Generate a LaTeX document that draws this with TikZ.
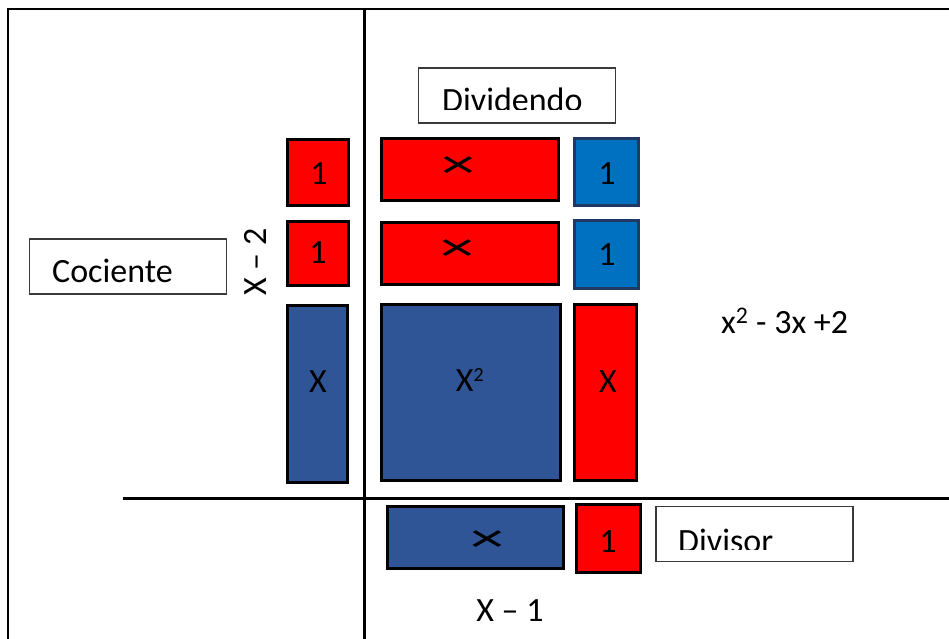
\documentclass[tikz,border=0pt]{standalone}
\usepackage{fontspec}
\setmainfont{Carlito}
\newfontfamily\crossfont{Liberation Sans}
\definecolor{tred}{HTML}{FF0000}
\definecolor{tbluex}{HTML}{2F5597}
\definecolor{tblueone}{HTML}{0070C0}
\definecolor{tnavy}{HTML}{1F3864}
\definecolor{tgray}{HTML}{3A3A3A}
\newcommand{\tilecross}{\scalebox{1.9}[1.1]{\crossfont ×}}
\begin{document}
\begin{tikzpicture}[x=1pt,y=-1pt,
  tile/.style={draw=black,line width=3.5pt,inner sep=0pt,outer sep=0pt},
  redtile/.style={tile,fill=tred},
  bluextile/.style={tile,fill=tbluex},
  bluetile/.style={tile,fill=tblueone,draw=tnavy},
  lblbox/.style={draw=tgray,line width=1.5pt,fill=white,inner sep=0pt,minimum width=197pt,minimum height=55pt},
  txt/.style={inner sep=0pt,font=\fontsize{34}{40}\selectfont},
  axis/.style={line width=3pt,black},
  frameline/.style={line width=2.2pt,black}
]
\useasboundingbox (0,0) rectangle (949,638);
\clip (0,0) rectangle (949,638);
\fill[white] (0,0) rectangle (949,638);

% frame and axes
\coordinate (ftr) at (960,9);
\coordinate (ftl) at (8,9);
\coordinate (fbl) at (8,650);
\draw[frameline] (ftr) -- (ftl) -- (fbl);
\coordinate (vtop) at (364,9);
\coordinate (vbot) at (364,650);
\draw[axis] (vtop) -- (vbot);
\coordinate (hl) at (123,498);
\coordinate (hr) at (960,498);
\draw[axis] (hl) -- (hr);

% left column (quotient)
\node[redtile,minimum width=61pt,minimum height=66pt] (q1a) at (318,172.5) {};
\node[redtile,minimum width=61pt,minimum height=64pt] (q1b) at (318,253.5) {};
\node[bluextile,minimum width=60pt,minimum height=177pt] (qx) at (317.5,394) {};
\node[txt] (q1at) at (319,174) {1};
\node[txt] (q1bt) at (318,253) {1};
\node[txt] (qxt) at (318,382) {X};

% dividend
\node[redtile,minimum width=177pt,minimum height=62pt] (dxa) at (470,169.5) {};
\node[redtile,minimum width=177pt,minimum height=62pt] (dxb) at (470,253.5) {};
\node[bluetile,minimum width=64pt,minimum height=67pt] (d1a) at (606.5,172) {};
\node[bluetile,minimum width=64pt,minimum height=68pt] (d1b) at (606.5,254.5) {};
\node[bluextile,minimum width=179pt,minimum height=176pt] (dxx) at (471,392.5) {};
\node[redtile,minimum width=62pt,minimum height=176pt] (dx) at (605.5,392.5) {};
\node[txt] (dxat) at (458,167) {\tilecross};
\node[txt] (dxbt) at (457,250) {\tilecross};
\node[txt] (d1at) at (607,174) {1};
\node[txt] (d1bt) at (607,255) {1};
\node[txt] (dxxt) at (470,380) {X\textsuperscript{\fontsize{20}{20}\selectfont 2}};
\node[txt] (dxt) at (608,382) {X};

% divisor
\node[bluextile,minimum width=176pt,minimum height=62pt] (vx) at (475.5,537.5) {};
\node[redtile,minimum width=64pt,minimum height=68pt] (v1) at (608.5,538.5) {};
\node[txt] (vxt) at (487,541) {\tilecross};
\node[txt] (v1t) at (608,542) {1};

% label boxes
\node[lblbox] (divbox) at (517,95.5) {};
\begin{scope}
  \clip (418,68) rectangle (616,109);
  \node[txt,anchor=base west] (divtxt) at (442,111.5) {Dividendo};
\end{scope}
\node[lblbox] (cocbox) at (128,266.5) {};
\node[txt,anchor=base west] (coctxt) at (52,282) {Cociente};
\node[lblbox] (dvsbox) at (754.5,534) {};
\begin{scope}
  \clip (656,506) rectangle (853,549);
  \node[txt,anchor=base west] (dvstxt) at (678,552) {Divisor};
\end{scope}

% expressions
\node[txt,rotate=90] (qexpr) at (255,262) {X – 2};
\node[txt] (vexpr) at (510,611) {X – 1};
\node[txt,anchor=base west] (dexpr) at (721,333) {x\textsuperscript{2} - 3x +2};
\end{tikzpicture}
\end{document}
